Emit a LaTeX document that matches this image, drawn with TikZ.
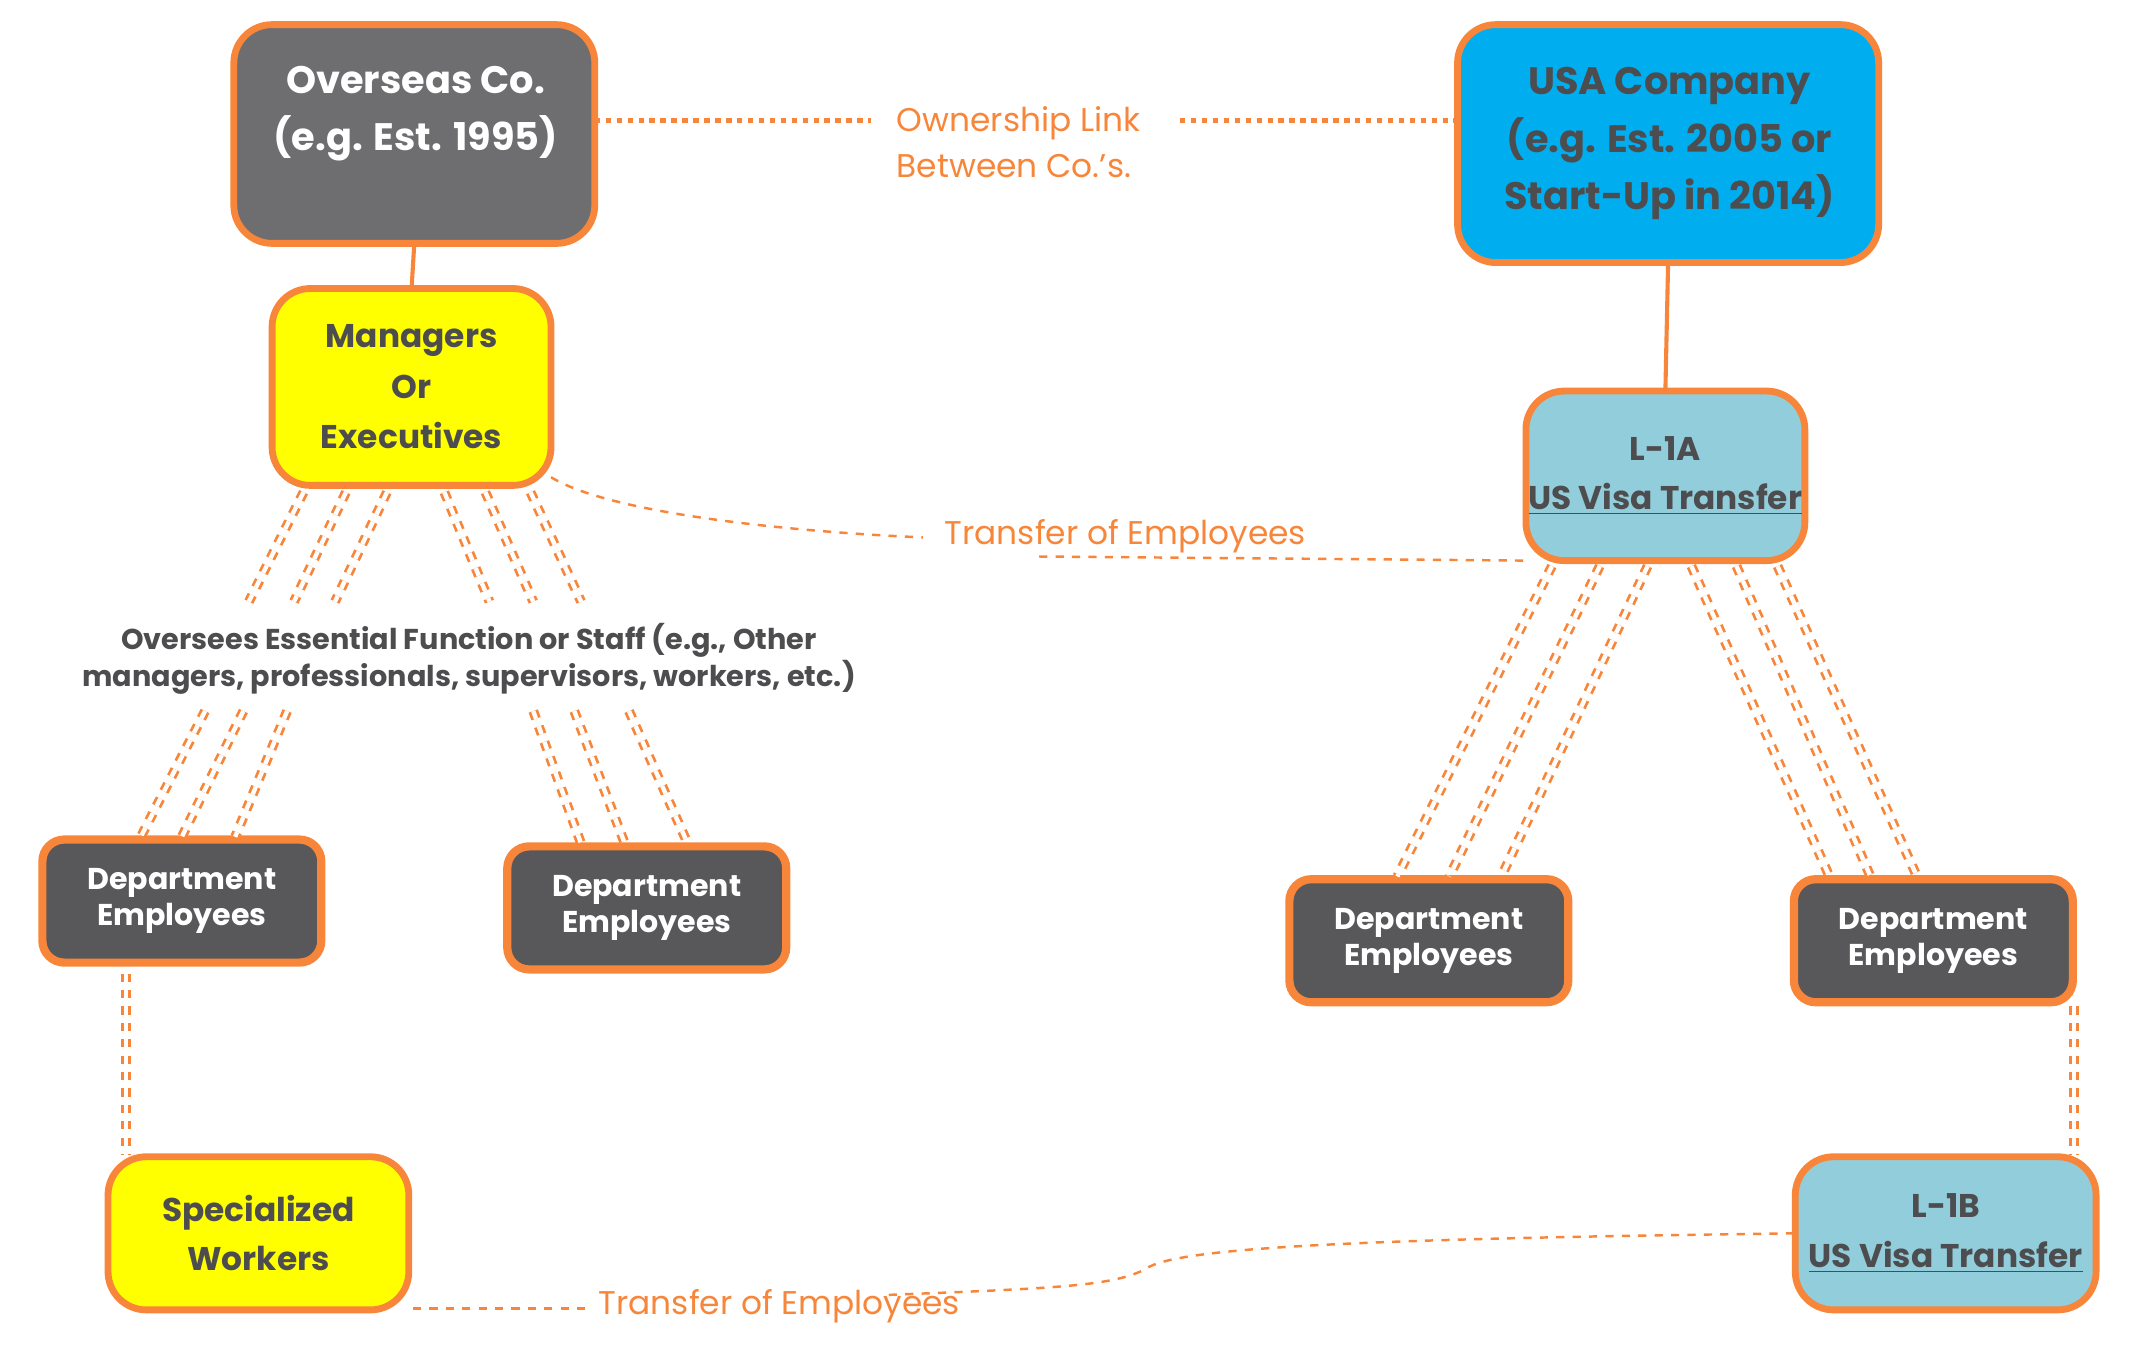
\documentclass[tikz,border=0pt]{standalone}
\usepackage{fontspec}
\setmainfont{Poppins}
\usetikzlibrary{positioning}
\definecolor{org}{HTML}{F7863A}
\definecolor{dg}{HTML}{4D4D4F}
\definecolor{gbox}{HTML}{6E6E70}
\definecolor{dbox}{HTML}{58585A}
\definecolor{usa}{HTML}{00AEEF}
\definecolor{lb}{HTML}{92CDDC}
\definecolor{yel}{HTML}{FFFF00}
\begin{document}
\begin{tikzpicture}[x=0.5pt,y=-0.5pt,
  box/.style={draw=org,line width=2.5pt,rounded corners=14pt,align=center,inner sep=0pt,outer sep=0pt},
  dept/.style={box,fill=dbox,text=white,font=\fontsize{11}{13}\selectfont\bfseries,minimum width=102pt,minimum height=45pt,rounded corners=8pt,line width=3pt},
  dd/.style={draw=org,double=white,dashed,line width=1pt,double distance=1.6pt},
  lk/.style={draw=org,dashed,line width=0.9pt},
  lab/.style={text=org,font=\fontsize{12}{17}\selectfont,align=left}]
\useasboundingbox (0,0) rectangle (1560,997.6);
% main boxes
\node[box,fill=gbox,minimum width=132pt,minimum height=80pt,anchor=north west] (ov) at (171,18) {};
\node[text=white,font=\fontsize{14}{21}\selectfont\bfseries,align=center] (ovt) at (304,83) {Overseas Co.\\(e.g. Est. 1995)};
\node[box,fill=usa,minimum width=154pt,minimum height=87pt,anchor=north west] (usa) at (1066,18) {};
\node[text=dg,font=\fontsize{14}{21}\selectfont\bfseries,align=center] (usat) at (1221,105) {USA Company\\(e.g. Est. 2005 or\\Start-Up in 2014)};
\node[box,fill=yel,text=dg,minimum width=102pt,minimum height=72pt,anchor=north west,font=\fontsize{12}{18.5}\selectfont\bfseries] (mg) at (199,211) {Managers\\Or\\Executives};
\node[box,fill=lb,text=dg,minimum width=102pt,minimum height=62pt,anchor=north west,font=\fontsize{12}{18}\selectfont\bfseries] (l1a) at (1116,286) {L-1A\\\underline{US Visa Transfer}};
\node[box,fill=yel,text=dg,minimum width=110pt,minimum height=56pt,anchor=north west,font=\fontsize{12}{18}\selectfont\bfseries] (sp) at (79,846) {Specialized\\Workers};
\node[box,fill=lb,text=dg,minimum width=110pt,minimum height=56pt,anchor=north west,font=\fontsize{12}{18}\selectfont\bfseries] (l1b) at (1313,846) {L-1B\\\underline{US Visa Transfer}};
\node[dept,anchor=north west] (d1) at (31,614) {Department\\Employees};
\node[dept,anchor=north west] (d2) at (371,619) {Department\\Employees};
\node[dept,anchor=north west] (d3) at (943,643) {Department\\Employees};
\node[dept,anchor=north west] (d4) at (1312,643) {Department\\Employees};
% labels
\node[lab] (own) at (745,104) {Ownership Link\\Between Co.'s.};
\node[lab] (tr1) at (823,392) {Transfer of Employees};
\node[lab] (tr2) at (570,955) {Transfer of Employees};
\node[text=dg,font=\fontsize{10.5}{13.5}\selectfont\bfseries,align=center] (ess) at (343,482) {Oversees Essential Function or Staff (e.g., Other\\managers, professionals, supervisors, workers, etc.)};
% solid links
\draw[org,line width=1.5pt] (ov.south) -- (mg.north);
\draw[org,line width=1.5pt] (usa.south) -- (l1a.north);
% ownership dotted
\coordinate (o1) at (637,88); \coordinate (o2) at (863,88);
\draw[org,dotted,line width=2pt] (ov.east |- o1) -- (o1);
\draw[org,dotted,line width=2pt] (o2) -- (usa.west |- o2);
% transfer links
\coordinate (t1) at (675,393); \coordinate (t2) at (760,407);
\draw[lk] (mg.south east) ++(0,-6) .. controls (450,378) and (600,390) .. (t1);
\draw[lk] (t2) -- (1118,410);
\coordinate (b1) at (428,957); \coordinate (b2) at (650,947);
\draw[lk] (302,957) -- (b1);
\draw[lk] (b2) .. controls (780,942) and (815,940) .. (838,928) .. controls (860,912) and (1000,906) .. (l1b.west);
% managers fan
\draw[dd] (222,360) -- (182,440); \draw[dd] (253,360) -- (215,440); \draw[dd] (283,360) -- (245,440);
\draw[dd] (325,360) -- (358,440); \draw[dd] (355,360) -- (390,440); \draw[dd] (388,360) -- (425,440);
\draw[dd] (150,520) -- (103,612); \draw[dd] (178,520) -- (133,612); \draw[dd] (210,520) -- (172,612);
\draw[dd] (390,520) -- (425,617); \draw[dd] (420,520) -- (457,617); \draw[dd] (460,520) -- (503,617);
% L-1A fan
\draw[dd] (1135,414) -- (1022,641); \draw[dd] (1170,414) -- (1060,641); \draw[dd] (1205,414) -- (1098,641);
\draw[dd] (1237,414) -- (1338,641); \draw[dd] (1270,414) -- (1368,641); \draw[dd] (1300,414) -- (1402,641);
% vertical
\draw[dd] (92,712) -- (92,845);
\draw[dd] (1517,736) -- (1517,845);
\end{tikzpicture}
\end{document}
